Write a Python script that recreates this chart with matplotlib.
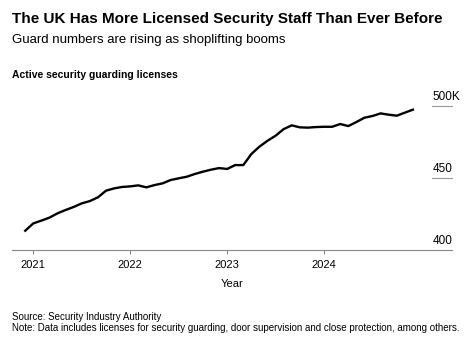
import numpy as np
import pandas as pd
import matplotlib.pyplot as plt
import matplotlib.transforms as mtransforms

plt.rcParams['font.family'] = ['Liberation Sans', 'DejaVu Sans']

# monthly active licences (thousands), Dec 2020 - Dec 2024
months = pd.date_range('2020-12-01', '2024-12-01', freq='MS')
licenses = [413.4, 418.5, 420.4, 422.5, 425.5, 427.8, 429.9, 432.4, 434.0, 436.6,
            441.2, 442.8, 443.8, 444.2, 444.9, 443.5, 445.1, 446.3, 448.6, 449.8,
            450.9, 452.8, 454.4, 455.8, 456.9, 456.3, 459.0, 459.0, 466.7, 471.8,
            475.9, 479.4, 484.0, 486.6, 485.2, 485.0, 485.4, 485.6, 485.6, 487.5,
            486.1, 488.9, 491.9, 493.1, 494.9, 494.0, 493.3, 495.4, 497.5]
year_ticks = [2021, 2022, 2023, 2024]
y_ticks = [400, 450, 500]
y_labels = ['400', '450', '500K']

# decimal years for x positions
x = np.array([d.year + (d.month - 1) / 12 for d in months])

fig = plt.figure(figsize=(4.69, 3.42), dpi=100)
ax = fig.add_axes([12 / 469, 1 - 250 / 342, 440 / 469, 0.463])
ax.plot(x, licenses, color='black', lw=1.7, solid_joinstyle='round')
ax.set_xlim(2020.78, 2025.32)
ax.set_ylim(400, 510)

for s in ['top', 'right', 'left']:
    ax.spines[s].set_visible(False)
ax.spines['bottom'].set_color('#888888')
ax.spines['bottom'].set_linewidth(0.8)
ax.set_yticks([])
ax.set_xticks(year_ticks)
ax.set_xticklabels([str(y) for y in year_ticks], fontsize=8)
ax.tick_params(axis='x', length=3, color='#888888', width=0.8, pad=4)
ax.set_xlabel('Year', fontsize=8, labelpad=7)

# short gridlines + labels on the right
tr = mtransforms.blended_transform_factory(ax.transAxes, ax.transData)
for v, lab in zip(y_ticks, y_labels):
    if v != 400:
        ax.plot([0.955, 1.0], [v, v], color='#999999', lw=0.8, transform=tr, clip_on=False)
    ax.text(0.955, v + 2.3, lab, transform=tr, ha='left', va='bottom', fontsize=8.5)

fig.text(12 / 469, 1 - 19 / 342, 'The UK Has More Licensed Security Staff Than Ever Before',
         fontsize=11, fontweight='bold', va='center')
fig.text(12 / 469, 1 - 40 / 342, 'Guard numbers are rising as shoplifting booms',
         fontsize=9.5, va='center')
fig.text(12 / 469, 1 - 75 / 342, 'Active security guarding licenses',
         fontsize=7.5, fontweight='bold', va='center')
fig.text(12 / 469, 1 - 317 / 342, 'Source: Security Industry Authority',
         fontsize=7, va='center')
fig.text(12 / 469, 1 - 328 / 342,
         'Note: Data includes licenses for security guarding, door supervision and close protection, among others.',
         fontsize=7, va='center')

fig.savefig('out.png', dpi=100)
